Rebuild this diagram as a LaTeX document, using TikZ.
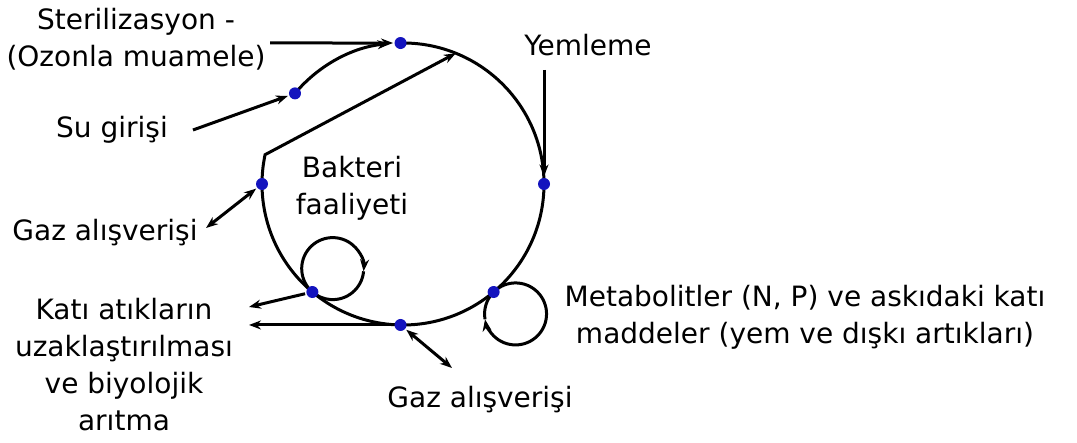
\documentclass[tikz,border=0pt]{standalone}
\usepackage{fontspec}
\setmainfont{DejaVu Sans}
\usetikzlibrary{positioning,arrows.meta,calc}
\definecolor{dotblue}{RGB}{20,20,190}
\tikzset{
    >={Stealth[length=12pt,width=9pt]},
    pipe/.style={line width=3pt},
    dot/.style={circle, fill=dotblue, minimum size=12pt, inner sep=0pt},
    lbl/.style={align=center, inner sep=1pt, font=\fontsize{28}{37}\selectfont}
}

\begin{document}
\begin{tikzpicture}[x=1pt, y=1pt, pipe]
    \useasboundingbox (0,0) rectangle (1077,443);
    \coordinate (c) at (403,259);
    \coordinate (p-top) at ($(c)+(91:141)$);
    \coordinate (p-in)  at ($(c)+(140:141)$);
    \coordinate (p-mr)  at ($(c)+(-50:141)$);
    \coordinate (p-ml)  at ($(c)+(-130:141)$);
    \coordinate (ret) at ($(c)+(68:141)$);
    \coordinate (lc) at ($(p-ml)+(49:31)$);
    \coordinate (rc) at ($(p-mr)+(-45:31)$);

    % the loop and its return line
    \draw[->] (p-top) arc[start angle=91, end angle=-192, radius=141] -- (ret);
    \draw[->] (p-in) arc[start angle=140, end angle=95.5, radius=141];
    % small loops
    \draw[->] (p-ml) arc[start angle=229, end angle=-5, radius=31];
    \draw (lc) ++(-5:31) arc[start angle=-5, end angle=-131, radius=31];
    \draw[->] (p-mr) arc[start angle=135, end angle=-170, radius=31];
    \draw (rc) ++(-170:31) arc[start angle=-170, end angle=-225, radius=31];

    % stations on the loop
    \node[dot] (top)    at (p-top) {};
    \node[dot] (inlet)  at (p-in)  {};
    \node[dot] (right)  at ($(c)+(0:141)$) {};
    \node[dot] (mr)     at (p-mr)  {};
    \node[dot] (bottom) at ($(c)+(-91:141)$) {};
    \node[dot] (ml)     at (p-ml)  {};
    \node[dot] (left)   at ($(c)+(180:141)$) {};

    % free ends
    \coordinate (sterOut) at (270,400);
    \coordinate (suOut) at (193,313);
    \coordinate (yemOut) at (544,373);
    \coordinate (gl) at (206,215);
    \coordinate (gb) at (452,75);
    \coordinate (k1) at (249,136);
    \coordinate (k2) at (249,120);

    \draw[->] (sterOut) -- (top);
    \draw[->] (suOut) -- (inlet);
    \draw[->] (yemOut) -- (right);
    \draw[<->] (left) -- (gl);
    \draw[<->] (bottom) -- (gb);
    \draw[->] (ml) -- (k1);
    \draw[->] (bottom) -- (bottom -| k2);

    % labels
    \node[lbl] (ster) at (136,404) {Sterilizasyon -\\(Ozonla muamele)};
    \node[lbl] (su)   at (112,313) {Su girişi};
    \node[lbl] (gazL) at (105,210) {Gaz alışverişi};
    \node[lbl] (bak)  at (352,255) {Bakteri\\faaliyeti};
    \node[lbl] (yem)  at (588,398) {Yemleme};
    \node[lbl] (meta) at (805,126) {Metabolitler (N, P) ve askıdaki katı\\maddeler (yem ve dışkı artıkları)};
    \node[lbl] (kati) at (124,78)  {Katı atıkların\\uzaklaştırılması\\ve biyolojik\\arıtma};
    \node[lbl] (gazB) at (480,43)  {Gaz alışverişi};
\end{tikzpicture}
\end{document}
